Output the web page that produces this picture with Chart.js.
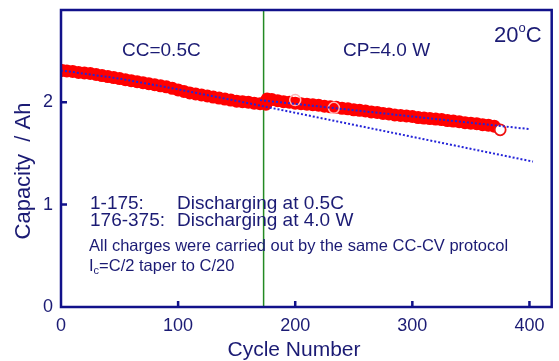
<!DOCTYPE html>
<html>
<head>
<meta charset="utf-8">
<script src="https://cdn.jsdelivr.net/npm/chart.js@4.4.1/dist/chart.umd.min.js"></script>
<style>
html,body{margin:0;padding:0;background:#fff;}
#wrap{width:559px;height:361px;position:relative;}
</style>
</head>
<body>
<div id="wrap"><canvas id="c" width="559" height="361"></canvas></div>
<script>
// ---- data ----
const cyclesA = [1,5,10,15,20,25,30,35,40,45,50,55,60,65,70,75,80,85,90,95,100,105,110,115,120,125,130,135,140,145,150,155,160,165,170,175];
const capA    = [2.31,2.305,2.30,2.29,2.285,2.28,2.27,2.26,2.25,2.24,2.23,2.22,2.21,2.20,2.19,2.18,2.17,2.16,2.15,2.135,2.12,2.105,2.09,2.08,2.07,2.06,2.05,2.04,2.03,2.02,2.01,2.005,2.0,1.99,1.985,1.98];
const cyclesB = [176,180,185,190,195,200,205,210,215,220,225,230,235,240,245,250,255,260,265,270,275,280,285,290,295,300,305,310,315,320,325,330,335,340,345,350,355,360,365,370];
const capB    = [2.03,2.025,2.015,2.005,2.0,1.99,1.985,1.98,1.975,1.97,1.96,1.955,1.95,1.94,1.935,1.925,1.92,1.915,1.905,1.90,1.89,1.885,1.875,1.87,1.865,1.86,1.85,1.845,1.84,1.835,1.83,1.82,1.815,1.81,1.80,1.795,1.79,1.78,1.775,1.765];
const lastCycle = [375];
const lastCap   = [1.73];
const openCycles = [200,233];
const openCaps   = [2.02,1.945];
const trendACycles = [0,50,100,160,403];
const trendACaps   = [2.31,2.23,2.125,1.99,1.42];
const trendBCycles = [170,400];
const trendBCaps   = [2.02,1.737];
const switchCycle = 173;
const xTicks = [0,100,200,300,400];
const yTicks = [0,1,2];

const NAVY = '#11118a';
const TXT = '#1b1b74';
const FONT = "'Liberation Sans', Arial, sans-serif";

const pts = (xs, ys) => xs.map((x,i)=>({x:x, y:ys[i]}));

const deco = {
  id:'deco',
  beforeDatasetsDraw(chart){
    const {ctx, chartArea:a, scales:{x}} = chart;
    const gx = x.getPixelForValue(switchCycle);
    ctx.save();
    ctx.strokeStyle = '#238a23';
    ctx.lineWidth = 1.5;
    ctx.beginPath(); ctx.moveTo(gx, a.top); ctx.lineTo(gx, a.bottom); ctx.stroke();
    ctx.restore();
  },
  afterDatasetsDraw(chart){
    const {ctx, chartArea:a, scales:{x,y}} = chart;
    ctx.save();
    ctx.strokeStyle = NAVY;
    ctx.lineWidth = 2.5;
    ctx.strokeRect(a.left, a.top, a.right-a.left, a.bottom-a.top);
    ctx.beginPath();
    xTicks.forEach(v=>{ const px = x.getPixelForValue(v); if (v>0){ctx.moveTo(px, a.bottom); ctx.lineTo(px, a.bottom-6);} });
    yTicks.forEach(v=>{ const py = y.getPixelForValue(v); if (v>0){ctx.moveTo(a.left, py); ctx.lineTo(a.left+6, py);} });
    ctx.stroke();

    ctx.fillStyle = TXT;
    ctx.textBaseline = 'alphabetic';
    ctx.textAlign = 'left';
    ctx.font = '19px ' + FONT;
    ctx.fillText('CC=0.5C', 122, 56);
    ctx.fillText('CP=4.0 W', 343, 56);
    ctx.font = '22px ' + FONT;
    ctx.fillText('20', 494, 42);
    const w20 = ctx.measureText('20').width;
    ctx.font = '13px ' + FONT;
    ctx.fillText('o', 494 + w20, 32);
    const wo = ctx.measureText('o').width;
    ctx.font = '22px ' + FONT;
    ctx.fillText('C', 494 + w20 + wo, 42);

    ctx.font = '19px ' + FONT;
    ctx.fillText('1-175:', 90, 209);
    ctx.fillText('Discharging at 0.5C', 177, 209);
    ctx.fillText('176-375:', 90, 226);
    ctx.fillText('Discharging at 4.0 W', 177, 226);
    ctx.font = '16.5px ' + FONT;
    ctx.fillText('All charges were carried out by the same CC-CV protocol', 89, 251);
    ctx.fillText('I', 89, 271);
    const wI = ctx.measureText('I').width;
    ctx.font = '11px ' + FONT;
    ctx.fillText('c', 89 + wI, 274);
    const wc = ctx.measureText('c').width;
    ctx.font = '16.5px ' + FONT;
    ctx.fillText('=C/2 taper to C/20', 89 + wI + wc, 271);

    // axis titles
    ctx.font = '21px ' + FONT;
    ctx.textAlign = 'center';
    ctx.fillText('Cycle Number', 294, 356);
    ctx.font = '22px ' + FONT;
    ctx.save();
    ctx.translate(30, 171);
    ctx.rotate(-Math.PI/2);
    ctx.fillText('Capacity  / Ah', 0, 0);
    ctx.restore();
    ctx.restore();
  }
};

const lineStyle = {
  showLine:true, pointRadius:0, borderColor:'#2424d8', borderWidth:2,
  borderDash:[2,2], fill:false, order:0
};

new Chart(document.getElementById('c'), {
  type:'scatter',
  data:{
    datasets:[
      Object.assign({label:'fit A', data:pts(trendACycles, trendACaps)}, lineStyle),
      Object.assign({label:'fit B', data:pts(trendBCycles, trendBCaps)}, lineStyle),
      {label:'open', data:pts(openCycles, openCaps), pointRadius:5.5, pointBorderWidth:1.5,
       pointBackgroundColor:'rgba(255,0,0,0)', pointBorderColor:'#ffb4b4', order:1},
      {label:'last', data:pts(lastCycle, lastCap), pointRadius:5.5, pointBorderWidth:1.8,
       pointBackgroundColor:'#ffffff', pointBorderColor:'#ee1111', order:2},
      {label:'CP', data:pts(cyclesB, capB), pointRadius:6.5, pointBorderWidth:0,
       pointBackgroundColor:'#ff0000', order:3},
      {label:'CC', data:pts(cyclesA, capA), pointRadius:6.5, pointBorderWidth:0,
       pointBackgroundColor:'#ff0000', order:4}
    ]
  },
  options:{
    responsive:false, animation:false, devicePixelRatio:1,
    layout:{padding:{left:0, right:5, top:10, bottom:0}},
    plugins:{legend:{display:false}, tooltip:{enabled:false}},
    scales:{
      x:{
        type:'linear', min:0, max:419,
        afterBuildTicks(s){ s.ticks = xTicks.map(v=>({value:v})); },
        afterFit(s){ s.height = 54; s.paddingLeft = 0; s.paddingRight = 0; },
        grid:{display:false, drawTicks:false}, border:{display:false},
        ticks:{color:TXT, font:{family:FONT, size:18}, padding:8, maxRotation:0}
      },
      y:{
        type:'linear', min:0, max:2.9,
        afterBuildTicks(s){ s.ticks = yTicks.map(v=>({value:v})); },
        afterFit(s){ s.width = 61; s.paddingTop = 0; s.paddingBottom = 0; },
        grid:{display:false, drawTicks:false}, border:{display:false},
        ticks:{color:TXT, font:{family:FONT, size:18}, padding:8}
      }
    }
  },
  plugins:[deco]
});
</script>
</body>
</html>
